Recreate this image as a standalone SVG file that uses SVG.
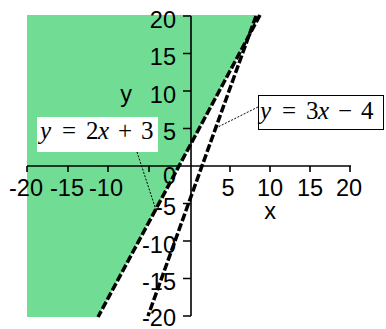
<svg xmlns="http://www.w3.org/2000/svg" width="386" height="329" viewBox="0 0 386 329">
<style>
.lbl{font-family:"Liberation Sans",Arial,sans-serif;font-size:23.5px;fill:#000}
.r{text-anchor:end}
.m{text-anchor:middle}
.math{font-family:"Liberation Serif","Times New Roman",serif;font-size:25px;fill:#000}
.it{font-style:italic}
.ax{stroke:#000;stroke-width:1.6;fill:none}
.curve{stroke:#000;stroke-width:3.5;fill:none;stroke-dasharray:8 2.5}
.leader{stroke:#000;stroke-width:1;fill:none;stroke-dasharray:2 1.5}
</style>
<rect width="386" height="329" fill="#fff"/>
<g id="region">
<polygon points="27,15 260,15 98,317 27,317" fill="#70dc94"/>
</g>
<g id="axes">
<path class="ax" d="M191,16 V316 M183,16 H191 M183,53.5 H191 M183,91 H191 M183,128.5 H191 M183,203.5 H191 M183,241 H191 M183,278.5 H191 M183,316 H191"/>
<path class="ax" d="M27,166 H351 M27,166 V172 M68,166 V172 M108,166 V172 M149,166 V172 M230,166 V172 M270,166 V172 M310,166 V172 M350,166 V172"/>
</g>
<g id="ylabels">
<text class="lbl r" x="176" y="27.5">20</text>
<text class="lbl r" x="176" y="65">15</text>
<text class="lbl r" x="176" y="102.5">10</text>
<text class="lbl r" x="176" y="140">5</text>
<text class="lbl r" x="176" y="184">0</text>
<text class="lbl r" x="176" y="215">-5</text>
<text class="lbl r" x="176" y="252.5">-10</text>
<text class="lbl r" x="176" y="290">-15</text>
<text class="lbl r" x="176" y="326">-20</text>
<text class="lbl m" x="126" y="102">y</text>
</g>
<g id="xlabels">
<text class="lbl m" x="26" y="196">-20</text>
<text class="lbl m" x="67" y="196">-15</text>
<text class="lbl m" x="106" y="196">-10</text>
<text class="lbl m" x="228" y="196">5</text>
<text class="lbl m" x="270" y="196">10</text>
<text class="lbl m" x="310" y="196">15</text>
<text class="lbl m" x="349" y="196">20</text>
<text class="lbl m" x="270" y="219">x</text>
</g>
<g id="connectors">
<line class="curve" x1="260" y1="15" x2="98" y2="317"/>
<line class="curve" x1="256" y1="16" x2="148" y2="316"/>
<line class="leader" x1="137" y1="152" x2="156" y2="210"/>
<line class="leader" x1="258" y1="107" x2="216" y2="128"/>
</g>
<g id="label1">
<rect x="37" y="117" width="121" height="35" fill="#fff"/>
<text class="math" y="138.5"><tspan class="it" x="40">y</tspan><tspan x="62">=</tspan><tspan x="86">2</tspan><tspan class="it" x="98">x</tspan><tspan x="118">+</tspan><tspan x="141">3</tspan></text>
</g>
<g id="label2">
<rect x="258.5" y="95.5" width="125" height="34" fill="#fff" stroke="#000" stroke-width="1"/>
<text class="math" y="118.5"><tspan class="it" x="260">y</tspan><tspan x="282">=</tspan><tspan x="306">3</tspan><tspan class="it" x="318">x</tspan><tspan x="338">−</tspan><tspan x="361">4</tspan></text>
</g>
</svg>
